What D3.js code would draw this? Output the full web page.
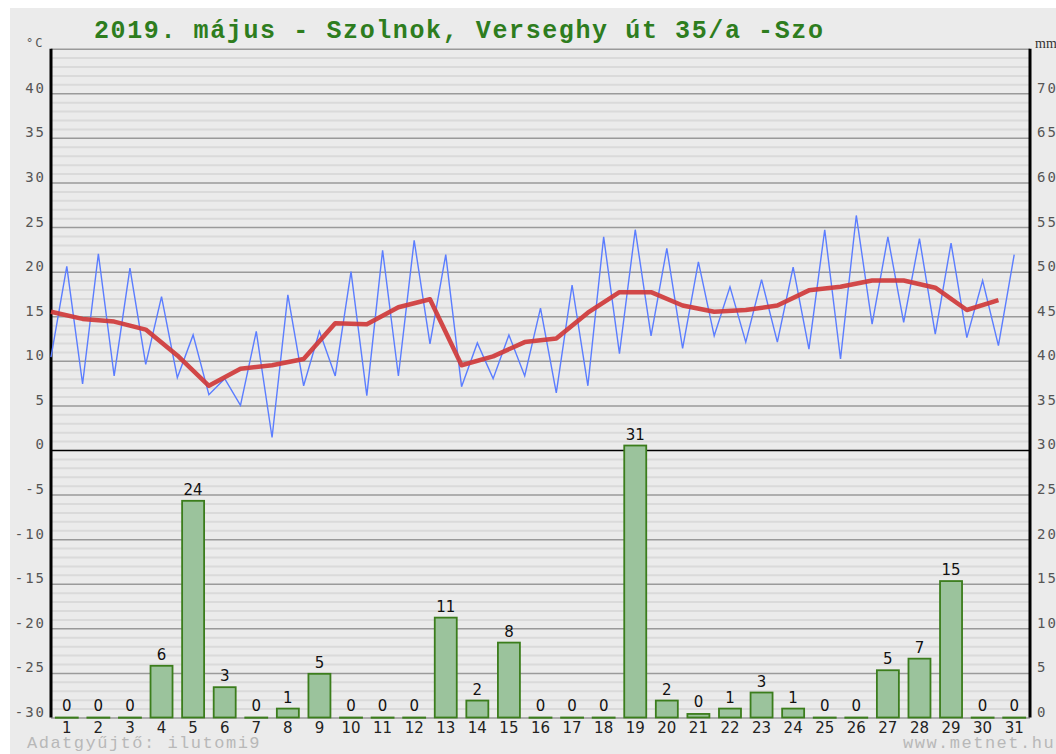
<!DOCTYPE html>
<html>
<head>
<meta charset="utf-8">
<script src="https://cdn.jsdelivr.net/npm/d3@7"></script>
<style>
  body { margin: 0; background: #fff; }
  svg { display: block; }
</style>
</head>
<body>
<div id="chart"></div>
<script>
/* global d3 */

// május napjai
let days = d3.range(1, 32);
// napi minimum / maximum hőmérséklet (°C)
let tMin = [10.4, 7.4, 8.3, 9.6, 8.1, 6.2, 5.0, 1.4, 7.2, 8.3, 6.1, 8.3, 11.9, 7.1, 8.0, 8.3,
  6.4, 7.2, 10.8, 12.8, 11.4, 12.8, 12.1, 12.1, 11.3, 10.2, 14.1, 14.3, 13.0, 12.6, 11.7];
let tMax = [20.6, 22.0, 20.4, 17.2, 12.9, 8.0, 13.3, 17.4, 13.3, 20.0, 22.4, 23.5, 21.9, 12.0, 12.9, 15.9,
  18.5, 23.9, 24.7, 22.6, 21.1, 18.3, 19.1, 20.5, 24.7, 26.3, 23.9, 23.7, 23.2, 19.0, 21.9];
// napi középhőmérséklet (°C)
let tMean = [15.5, 14.7, 14.4, 13.5, 10.6, 7.2, 9.1, 9.5, 10.2, 14.2, 14.1, 16.0, 16.9, 9.5, 10.5, 12.1,
  12.5, 15.4, 17.7, 17.7, 16.2, 15.5, 15.7, 16.2, 17.9, 18.3, 19.0, 19.0, 18.2, 15.7, 16.8];
// csapadék (mm)
let rain = [0, 0, 0, 5.8, 24.3, 3.4, 0, 1.0, 4.9, 0, 0, 0, 11.2, 1.9, 8.4, 0,
  0, 0, 30.5, 1.9, 0.4, 1.0, 2.8, 1.0, 0, 0, 5.3, 6.6, 15.3, 0, 0];
let tempTicks = [40, 35, 30, 25, 20, 15, 10, 5, 0, -5, -10, -15, -20, -25, -30];
let rainTicks = [70, 65, 60, 55, 50, 45, 40, 35, 30, 25, 20, 15, 10, 5, 0];

let title = "2019. május - Szolnok, Verseghy út 35/a -Szo";

let W = 1056, H = 754;
let pL = 51, pR = 1030, pT = 48.7, pB = 717.5;

let svg = d3.select("#chart").append("svg")
  .attr("width", W)
  .attr("height", H);

svg.append("rect")
  .attr("x", 10).attr("y", 8)
  .attr("width", W - 10).attr("height", H - 8)
  .attr("fill", "#ebebeb");

let x = d3.scaleBand().domain(days).range([pL, pR]);
let y = d3.scaleLinear().domain([-30, 45]).range([pB, pT]);
let yR = d3.scaleLinear().domain([0, 75]).range([pB, pT]);

// rácsvonalak
let grid = svg.append("g")
  .attr("transform", `translate(${pL},0)`)
  .call(d3.axisLeft(y)
    .tickValues(d3.range(-30, 46, 1))
    .tickSize(-(pR - pL))
    .tickFormat(""));
grid.select(".domain").remove();
grid.selectAll(".tick line")
  .attr("stroke", d => d % 5 == 0 ? "#9a9a9a" : "#dadada")
  .attr("stroke-width", d => d % 5 == 0 ? 1.5 : 2);
grid.selectAll(".tick").filter(d => d == 0).select("line")
  .attr("stroke", "#000").attr("stroke-width", 1.6);

// bal tengely feliratai
let axL = svg.append("g")
  .attr("transform", `translate(${pL},0)`)
  .call(d3.axisLeft(y).tickValues(tempTicks).tickSize(0).tickPadding(5).tickFormat(d => String(d)));
axL.select(".domain").remove();
axL.selectAll("text")
  .attr("dy", "-1px")
  .style("dominant-baseline", "auto")
  .attr("font-family", "'DejaVu Sans Mono', monospace")
  .attr("font-size", 14)
  .attr("letter-spacing", 2)
  .attr("fill", "#555");

// jobb tengely feliratai
let axR = svg.append("g")
  .attr("transform", `translate(${pR},0)`)
  .call(d3.axisRight(yR).tickValues(rainTicks).tickSize(0).tickPadding(7).tickFormat(d => String(d)));
axR.select(".domain").remove();
axR.selectAll("text")
  .attr("dy", "-1px")
  .style("dominant-baseline", "auto")
  .attr("font-family", "'DejaVu Sans Mono', monospace")
  .attr("font-size", 14)
  .attr("letter-spacing", 2)
  .attr("fill", "#555");

svg.append("text")
  .attr("x", 26).attr("y", 47)
  .attr("font-family", "'DejaVu Sans Mono', monospace")
  .attr("font-size", 12)
  .attr("letter-spacing", 2)
  .attr("fill", "#555")
  .text("°C");
svg.append("text")
  .attr("x", 1035).attr("y", 48)
  .attr("font-family", "'Liberation Serif', serif")
  .attr("font-size", 14)
  .attr("fill", "#333")
  .text("mm");

// függőleges tengelyvonalak
svg.append("line")
  .attr("x1", pL).attr("x2", pL).attr("y1", pT).attr("y2", pB)
  .attr("stroke", "#000").attr("stroke-width", 3);
svg.append("line")
  .attr("x1", pR).attr("x2", pR).attr("y1", pT).attr("y2", pB)
  .attr("stroke", "#000").attr("stroke-width", 3);

// csapadék oszlopok
let barW = 22;
svg.append("g").selectAll("rect")
  .data(rain)
  .enter().append("rect")
  .attr("x", (d, i) => x(days[i]) + x.bandwidth() / 2 - barW / 2)
  .attr("y", d => yR(d))
  .attr("width", barW)
  .attr("height", d => Math.max(yR(0) - yR(d), 0.3))
  .attr("fill", "#9bc39c")
  .attr("stroke", "#3b7d1c")
  .attr("stroke-width", 1.8);

svg.append("g").selectAll("text")
  .data(rain)
  .enter().append("text")
  .attr("x", (d, i) => x(days[i]) + x.bandwidth() / 2)
  .attr("y", d => yR(d) - (d < 0.5 ? 7 : 6))
  .attr("text-anchor", "middle")
  .attr("font-family", "'DejaVu Sans', sans-serif")
  .attr("font-size", 15)
  .attr("fill", "#111")
  .text(d => Math.round(d));

// min/max vonal: minimum a nap elején, maximum a nap közepén
let zig = [];
days.forEach((day, i) => {
  zig.push([x(day), tMin[i]]);
  zig.push([x(day) + x.bandwidth() / 2, tMax[i]]);
});
svg.append("path")
  .datum(zig)
  .attr("d", d3.line().x(d => d[0]).y(d => y(d[1])))
  .attr("fill", "none")
  .attr("stroke", "#5b7dff")
  .attr("stroke-width", 1.4);

// középhőmérséklet
svg.append("path")
  .datum(tMean)
  .attr("d", d3.line().x((d, i) => x(days[i])).y(d => y(d)))
  .attr("fill", "none")
  .attr("stroke", "#cf3a3a")
  .attr("stroke-opacity", 0.92)
  .attr("stroke-width", 4.5)
  .attr("stroke-linejoin", "round");

// napok
svg.append("g").selectAll("text")
  .data(days)
  .enter().append("text")
  .attr("x", d => x(d) + x.bandwidth() / 2)
  .attr("y", 733)
  .attr("text-anchor", "middle")
  .attr("font-family", "'DejaVu Sans', sans-serif")
  .attr("font-size", 15)
  .attr("fill", "#222")
  .text(d => d);

// cím
svg.append("text")
  .attr("x", 94).attr("y", 37.5)
  .attr("font-family", "'Liberation Mono', 'Courier New', monospace")
  .attr("font-weight", "bold")
  .attr("font-size", 25)
  .attr("letter-spacing", 1.6)
  .attr("fill", "#2e7d1e")
  .text(title);

// lábléc
svg.append("text")
  .attr("x", 27).attr("y", 748)
  .attr("font-family", "'Liberation Mono', monospace")
  .attr("font-size", 17)
  .attr("letter-spacing", 1.5)
  .attr("fill", "#b8b8b8")
  .text("Adatgyűjtő: ilutomi9");
svg.append("text")
  .attr("x", 903).attr("y", 748)
  .attr("font-family", "'Liberation Mono', monospace")
  .attr("font-size", 17)
  .attr("letter-spacing", 1.5)
  .attr("fill", "#b8b8b8")
  .text("www.metnet.hu");
</script>
</body>
</html>
